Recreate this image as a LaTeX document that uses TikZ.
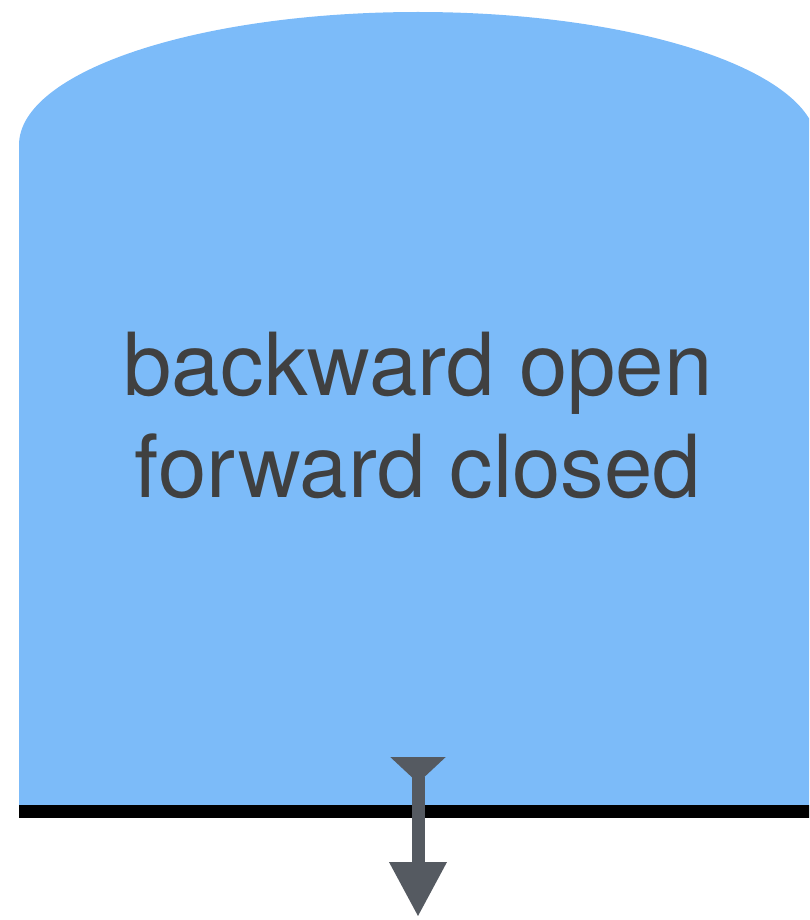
\documentclass[tikz,border=0pt]{standalone}
\usepackage{fontspec}
\setmainfont{TeX Gyre Heros}
\usetikzlibrary{arrows.meta}
\definecolor{shapeblue}{HTML}{7CBBF9}
\definecolor{textgray}{HTML}{404040}
\definecolor{arrowgray}{HTML}{555A61}
\tikzset{
  bluefill/.style={fill=shapeblue, draw=none},
  baseline line/.style={draw=black, line width=13pt},
  label text/.style={text=textgray, font=\fontsize{87}{102}\selectfont, align=center},
  flow arrow/.style={draw=arrowgray, line width=13pt,
    {Triangle[reversed,width=54pt,length=26pt]}-{Triangle[width=54pt,length=55pt]}}
}
\begin{document}
\begin{tikzpicture}[x=1pt,y=-1pt]
\useasboundingbox (0,0) rectangle (809,920);
\clip (0,0) rectangle (809,920);
\fill[bluefill] (19,805) -- (19,145) arc[start angle=180,end angle=360,x radius=399,y radius=133] -- (817,805) -- cycle;
\draw[baseline line] (19,811.5) -- (820,811.5);
\node[label text] (lbl) at (418,415) {backward open\\forward closed};
\coordinate (tail) at (418,757);
\coordinate (head) at (418,917);
\draw[flow arrow] (tail) -- (head);
\end{tikzpicture}
\end{document}
